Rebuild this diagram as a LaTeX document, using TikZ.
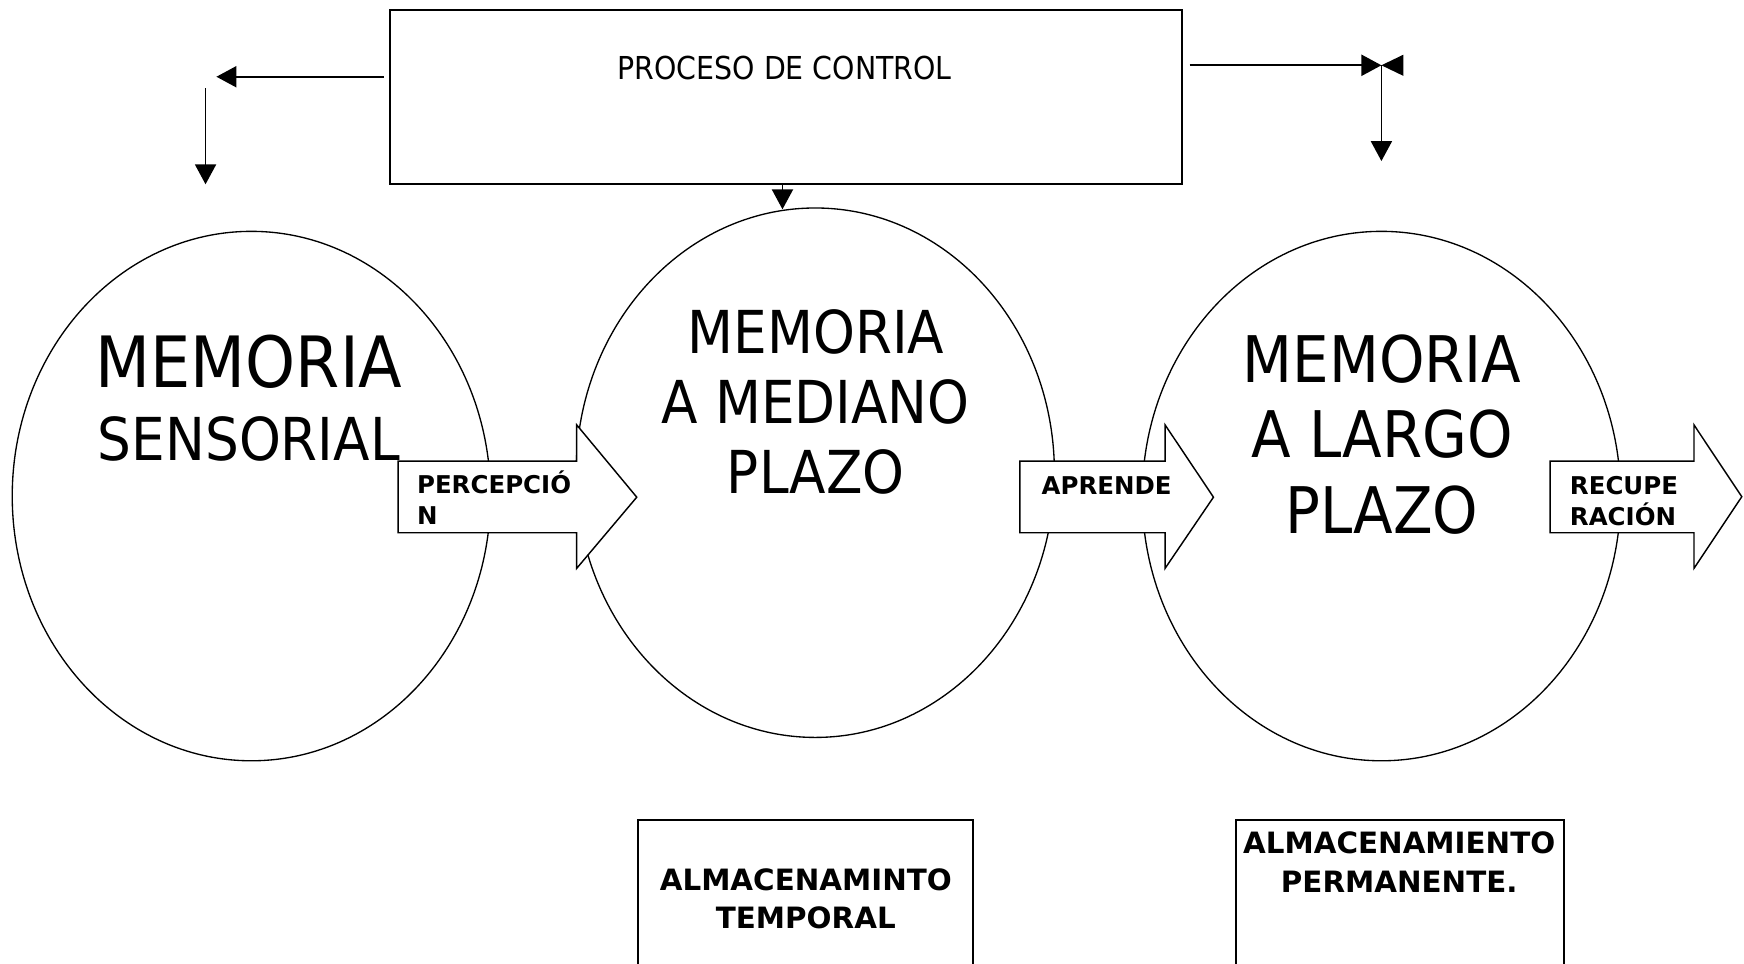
\documentclass[tikz,border=0pt]{standalone}
\usepackage{fontspec}
\newfontfamily\regf[FakeStretch=0.9]{DejaVu Sans}
\newfontfamily\plainf{DejaVu Sans}
\usetikzlibrary{arrows.meta,shapes.geometric}
\begin{document}
\begin{tikzpicture}[x=0.5pt,y=-0.5pt,
  txt/.style={inner sep=0pt, outer sep=0pt},
  memo/.style={draw, ellipse, line width=0.6pt, minimum width=215pt, minimum height=238pt, inner sep=0pt},
  blockarrow/.style={draw, fill=white, line width=0.65pt, line join=miter},
  conn/.style={line width=0.8pt, -{Triangle[length=9pt,width=9.5pt]}},
  boxline/.style={line width=0.9pt},
  lbl/.style={txt, font=\plainf\bfseries\fontsize{11}{13}\selectfont},
  store/.style={txt, anchor=base, font=\plainf\bfseries\fontsize{13.2}{16}\selectfont}]
\useasboundingbox (0,0) rectangle (1568,866.7);

% control box
\node[draw, boxline, minimum width=356.3pt, minimum height=78.35pt, anchor=north west, inner sep=0pt] (ctrl) at (349.4,8.1) {};
\node[txt, anchor=base, font=\regf\fontsize{14.2}{17}\selectfont] (ctrltext) at (705.5,71.3) {PROCESO DE CONTROL};

% memories
\node[memo] (ms) at (226,446) {};
\node[memo] (mm) at (733,425) {};
\node[memo] (ml) at (1242,446) {};

\node[txt, anchor=base west, font=\regf\fontsize{31.8}{36}\selectfont] (ms1) at (86,348.5) {MEMORIA};
\node[txt, anchor=base west, font=\regf\fontsize{26.6}{31}\selectfont] (ms2) at (88,414) {SENSORIAL};

\node[txt, anchor=base, font=\regf\fontsize{26.6}{31}\selectfont] (mm1) at (733.5,318) {MEMORIA};
\node[txt, anchor=base, font=\regf\fontsize{26.6}{31}\selectfont] (mm2) at (733.5,381) {A MEDIANO};
\node[txt, anchor=base, font=\regf\fontsize{26.6}{31}\selectfont] (mm3) at (733.5,444) {PLAZO};

\node[txt, anchor=base, font=\regf\fontsize{28.9}{34}\selectfont] (ml1) at (1242.5,343.5) {MEMORIA};
\node[txt, anchor=base, font=\regf\fontsize{28.9}{34}\selectfont] (ml2) at (1242.5,411) {A LARGO};
\node[txt, anchor=base, font=\regf\fontsize{28.9}{34}\selectfont] (ml3) at (1242.5,480) {PLAZO};

% connectors from control
\coordinate (l0) at (344.8,69);
\coordinate (la) at (194.6,69);
\coordinate (lb) at (184.8,79.4);
\coordinate (lc) at (184.8,165.7);
\draw[conn] (l0) -- (la);
\draw[conn] (lb) -- (lc);

\coordinate (r0) at (1069.6,58.7);
\coordinate (r1) at (1242,58.7);
\coordinate (r2) at (1242,144.8);
\coordinate (r3a) at (1261.7,49.2);
\coordinate (r3b) at (1261.7,68.2);
\draw[conn] (r0) -- (r1);
\fill (r1) -- (r3a) -- (r3b) -- cycle;
\draw[conn] (r1) -- (r2);

\coordinate (d0) at (703.5,164.8);
\coordinate (d1) at (703.5,188.2);
\draw[conn] (d0) -- (d1);

% block arrows
\draw[blockarrow] (358,414.5) -- (518.5,414.5) -- (518.5,382) -- (572.5,447) -- (518.5,511) -- (518.5,479) -- (358,479) -- cycle;
\draw[blockarrow] (917,414.5) -- (1047.5,414.5) -- (1047.5,382) -- (1091,447) -- (1047.5,511) -- (1047.5,479) -- (917,479) -- cycle;
\draw[blockarrow] (1393.6,414.5) -- (1523,414.5) -- (1523,382) -- (1566,446.6) -- (1523,511) -- (1523,479) -- (1393.6,479) -- cycle;

\node[lbl, anchor=base west] (p1) at (375,443.5) {PERCEPCIÓ};
\node[lbl, anchor=base west] (p2) at (375,471.8) {N};
\node[lbl, anchor=base west] (a1) at (936.5,444.5) {APRENDE};
\node[lbl, anchor=base west] (r1t) at (1411.5,444.5) {RECUPE};
\node[lbl, anchor=base west] (r2t) at (1411.5,472.8) {RACIÓN};

% storage boxes
\draw[boxline] (573.6,880) -- (573.6,737.3) -- (875,737.3) -- (875,880);
\draw[boxline] (1111,880) -- (1111,737.3) -- (1406,737.3) -- (1406,880);
\node[store] (t1) at (724.5,800.8) {ALMACENAMINTO};
\node[store] (t2) at (724.5,835) {TEMPORAL};
\node[store] (t3) at (1258,767.5) {ALMACENAMIENTO};
\node[store] (t4) at (1258,802) {PERMANENTE.};
\end{tikzpicture}
\end{document}
